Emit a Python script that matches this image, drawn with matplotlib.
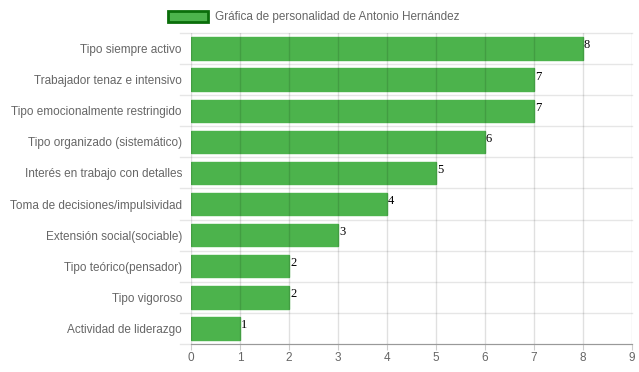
import matplotlib.pyplot as plt
import numpy as np

categories = [
    "Tipo siempre activo",
    "Trabajador tenaz e intensivo",
    "Tipo emocionalmente restringido",
    "Tipo organizado (sistemático)",
    "Interés en trabajo con detalles",
    "Toma de decisiones/impulsividad",
    "Extensión social(sociable)",
    "Tipo teórico(pensador)",
    "Tipo vigoroso",
    "Actividad de liderazgo",
]
values = [8, 7, 7, 6, 5, 4, 3, 2, 2, 1]
series_label = "Gráfica de personalidad de Antonio Hernández"

plt.rcParams["font.family"] = ["Liberation Sans", "DejaVu Sans"]

fig = plt.figure(figsize=(6.39, 3.72), dpi=100)
ax = fig.add_axes([191 / 639, 1 - 344 / 372, (632 - 191) / 639, (344 - 33) / 372])

y = np.arange(len(categories))
bars = ax.barh(y, values, height=0.72, color="#4cb34c", zorder=2, label=series_label,
               edgecolor="#4cb34c")

# vertical grid on top of bars, light
for t in range(0, 10):
    ax.axvline(t, color="#000000", alpha=0.12, lw=1, zorder=3)
# horizontal category separators
for b in np.arange(-0.5, len(categories), 1.0):
    ax.axhline(b, color="#e6e6e6", lw=1, zorder=1, xmin=-0.025, clip_on=False)

for yi, v in zip(y, values):
    ax.text(v + 0.02, yi - 0.1, str(v), fontsize=9, family="Liberation Serif",
            color="black", ha="left", va="center", zorder=4)

ax.set_xlim(0, 9)
ax.set_ylim(len(categories) - 0.5, -0.5)
ax.set_xticks(range(0, 10))
ax.set_yticks(y)
ax.set_yticklabels(categories)
ax.tick_params(axis="both", colors="#666666", labelsize=8.5, length=0)
ax.tick_params(axis="y", pad=6.5)
ax.tick_params(axis="x", length=4, color="#cccccc", pad=1.5)

for s in ["top", "right", "left"]:
    ax.spines[s].set_visible(False)
ax.spines["bottom"].set_color("#999999")

leg = fig.legend(handles=[bars], labels=[series_label], loc="upper left",
                 bbox_to_anchor=(157 / 639, 1.0), frameon=False, fontsize=8.5,
                 handlelength=3.4, handleheight=1.1, handletextpad=0.6,
                 labelcolor="#666666")
for p in leg.get_patches():
    p.set_edgecolor("#0a6e0a")
    p.set_linewidth(2)

fig.savefig("out.png", dpi=100)
